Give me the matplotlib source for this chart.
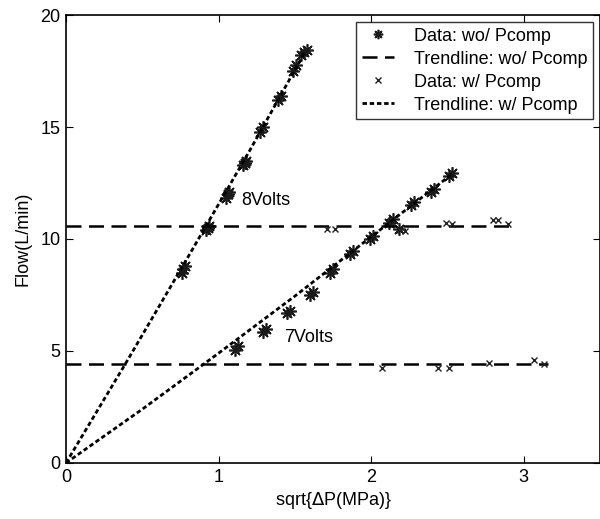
import numpy as np
import matplotlib
matplotlib.use("Agg")
import matplotlib.pyplot as plt

plt.rcParams['font.family'] = ['Liberation Sans', 'DejaVu Sans']

# Data: wo/ Pcomp (asterisks), steep 8V branch
wo8_x = [0.76, 0.78, 0.77, 0.92, 0.94, 0.93, 1.05, 1.07, 1.06, 1.16, 1.18, 1.17,
         1.27, 1.29, 1.39, 1.41, 1.49, 1.51, 1.54, 1.56, 1.58]
wo8_y = [8.5, 8.8, 8.65, 10.4, 10.6, 10.5, 11.85, 12.1, 12.0, 13.3, 13.5, 13.4,
         14.8, 15.0, 16.2, 16.4, 17.5, 17.75, 18.2, 18.35, 18.45]
# Data: wo/ Pcomp (asterisks), 7V branch
wo7_x = [1.11, 1.13, 1.29, 1.31, 1.45, 1.47, 1.60, 1.62, 1.73, 1.75, 1.86, 1.88,
         1.99, 2.01, 2.12, 2.14, 2.18, 2.26, 2.28, 2.39, 2.41, 2.51, 2.53]
wo7_y = [5.05, 5.2, 5.85, 6.0, 6.7, 6.8, 7.5, 7.65, 8.5, 8.65, 9.35, 9.45,
         10.0, 10.15, 10.7, 10.9, 10.45, 11.5, 11.65, 12.1, 12.25, 12.8, 12.95]

# Data: w/ Pcomp (x marks)
w_x = [1.71, 1.76, 2.19, 2.22, 2.49, 2.53, 2.80, 2.83, 2.90,
       2.07, 2.44, 2.51, 2.77, 3.07, 3.13]
w_y = [10.45, 10.45, 10.4, 10.35, 10.7, 10.65, 10.85, 10.85, 10.65,
       4.24, 4.24, 4.24, 4.46, 4.6, 4.44]

# Trendline wo/ Pcomp (flat levels)
flat_levels = [10.6, 4.4]
flat_end = [2.92, 3.16]

# Trendline w/ Pcomp (through origin)
tr8_x = [0, 0.4, 0.8, 1.2, 1.57]
tr8_y = [0, 4.55, 9.2, 13.9, 18.4]
tr7_x = [0, 0.5, 1.0, 1.5, 2.0, 2.53]
tr7_y = [0, 2.4, 4.9, 7.45, 10.1, 12.9]

fs = 13

fig = plt.figure(figsize=(6, 5.19), dpi=100)
ax = fig.add_axes([0.11, 0.108, 0.89, 0.863])

ast = (8, 2, 0)
ax.plot(wo8_x, wo8_y, ls='none', marker=ast, ms=9, mec='#1a1a1a', mew=1.2,
        label='Data: wo/ Pcomp')
ax.plot(wo7_x, wo7_y, ls='none', marker=ast, ms=9, mec='#1a1a1a', mew=1.2)
for lev, xe, i in zip(flat_levels, flat_end, range(2)):
    ax.plot([0, xe], [lev, lev], color='black', lw=1.8, ls=(0, (6, 3)),
            label='Trendline: wo/ Pcomp' if i == 0 else None)
ax.plot(w_x, w_y, ls='none', marker='x', ms=5, mec='#222222', mew=1.0,
        label='Data: w/ Pcomp')
ax.plot(tr8_x, tr8_y, color='black', lw=2.0, ls=(0, (1.6, 1.0)),
        label='Trendline: w/ Pcomp')
ax.plot(tr7_x, tr7_y, color='black', lw=2.0, ls=(0, (1.6, 1.0)))

ax.text(1.15, 11.7, '8Volts', fontsize=fs, va='center')
ax.text(1.43, 5.6, '7Volts', fontsize=fs, va='center')

ax.set_xlim(0, 3.5)
ax.set_ylim(0, 20)
ax.set_xticks([0, 1, 2, 3])
ax.set_yticks([0, 5, 10, 15, 20])
ax.tick_params(direction='in', top=True, right=True, length=5, labelsize=fs,
               pad=4)
for s in ax.spines.values():
    s.set_linewidth(1.2)
ax.set_xlabel('sqrt{$\\Delta$P(MPa)}', fontsize=fs, labelpad=3)
ax.set_ylabel('Flow(L/min)', fontsize=fs, labelpad=6)

leg = ax.legend(loc='upper right', bbox_to_anchor=(0.987, 0.984), fontsize=fs,
                frameon=True, fancybox=False, edgecolor='black',
                handlelength=1.8, handletextpad=1.1, borderpad=0.3,
                borderaxespad=0, labelspacing=0.33, markerscale=0.75)
leg.get_frame().set_linewidth(1.0)

fig.savefig('out.png', dpi=100)
